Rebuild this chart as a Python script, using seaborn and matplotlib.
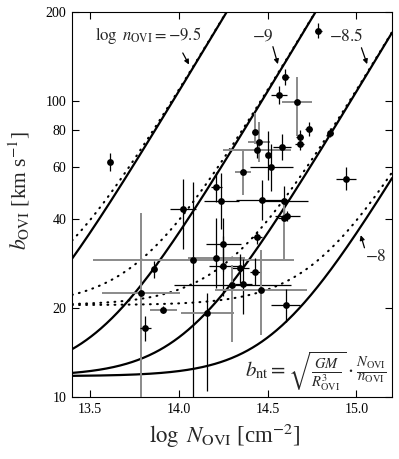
import numpy as np
import pandas as pd
import matplotlib
matplotlib.use("Agg")
import matplotlib.pyplot as plt
import seaborn as sns

# ---------------- data ----------------
logN = [14.784, 14.600, 14.564, 14.667, 14.681, 14.731, 14.681, 14.853, 14.431, 14.451,
        14.441, 14.581, 14.504, 14.522, 14.362, 14.940, 14.212, 13.613, 14.240, 14.470,
        14.590, 14.022, 14.611, 14.591, 14.440, 14.252, 14.083, 14.212, 13.863, 14.252,
        14.344, 14.432, 14.302, 14.364, 14.463, 13.790, 14.602, 14.161, 13.913, 13.812]
bval = [173.0, 121.0, 105.0, 99.2, 75.9, 80.3, 71.6, 78.3, 78.4, 72.7,
        68.5, 70.2, 65.7, 59.9, 57.7, 54.8, 51.2, 62.1, 46.2, 46.4,
        46.1, 43.4, 41.0, 40.3, 34.7, 32.9, 29.0, 29.5, 27.1, 27.7,
        27.3, 26.5, 23.9, 24.1, 23.1, 22.5, 20.5, 19.3, 19.8, 17.1]
xerr = [0.02, 0.02, 0.045, 0.085, 0.02, 0.02, 0.025, 0.015, 0.02, 0.06,
        0.19, 0.05, 0.01, 0.12, 0.045, 0.056, 0.03, 0.005, 0.10, 0.15,
        0.14, 0.073, 0.07, 0.03, 0.03, 0.10, 0.567, 0.16, 0.005, 0.08,
        0.05, 0.03, 0.33, 0.05, 0.26, 0.22, 0.08, 0.15, 0.075, 0.03]
yerr_lo = [10, 7.3, 7.0, 23, 4.0, 4.3, 3.3, 2.8, 6.5, 10.5,
           4.1, 6.7, 11.4, 10.3, 9.4, 4.8, 5.6, 4.1, 9.2, 6.7,
           5.1, 11.8, 1.6, 10.9, 1.7, 6.1, 25, 6.0, 1.7, 5.7,
           3.0, 2.6, 8.5, 5.0, 6.9, 16, 2.5, 8.8, 0.5, 1.6]
yerr_hi = [11, 7.7, 7.5, 21, 4.2, 4.5, 3.4, 3.0, 12.5, 12.2,
           4.4, 7.4, 13.3, 11.9, 10.9, 5.3, 6.3, 4.5, 11.2, 7.8,
           5.7, 11.1, 1.6, 5.6, 1.7, 7.5, 24.5, 10.8, 1.7, 7.3,
           3.3, 3.0, 4.0, 5.2, 8.4, 19.4, 2.8, 3.3, 0.5, 1.8]
grey_x = [0, 0, 0, 1, 0, 0, 0, 0, 0, 1,
          1, 0, 0, 0, 1, 0, 0, 0, 0, 0,
          0, 0, 0, 0, 0, 0, 1, 1, 0, 0,
          0, 0, 0, 0, 1, 1, 0, 1, 1, 0]
grey_y = [0, 0, 0, 1, 0, 0, 0, 0, 1, 1,
          0, 0, 0, 0, 1, 0, 0, 0, 0, 0,
          0, 0, 0, 1, 0, 0, 0, 0, 0, 0,
          0, 0, 1, 0, 1, 1, 0, 0, 0, 0]

log_n_levels = [-9.5, -9.0, -8.5, -8.0]
b_th_solid = 11.8
b_th_dotted = 20.5
log_coeff = -21.47   # log10 of sqrt(GM/R^3) in km/s per cm

# ---------------- figure ----------------
sns.set_theme(style="ticks")
plt.rcParams["font.family"] = ["Liberation Serif", "DejaVu Serif"]
plt.rcParams["mathtext.fontset"] = "stix"

fig = plt.figure(figsize=(3.99, 4.59), dpi=100)
ax = fig.add_axes([0.1805, 0.134, 0.802, 0.840])

grid = np.linspace(13.4, 15.2, 400)
for ln in log_n_levels:
    bnt = 10 ** (log_coeff + grid - ln)
    ax.plot(grid, np.sqrt(b_th_solid ** 2 + bnt ** 2), color="black", lw=1.6, zorder=3)
    ax.plot(grid, np.sqrt(b_th_dotted ** 2 + bnt ** 2), color="black", lw=1.5,
            linestyle=(0, (0.4, 3.0)), dash_capstyle="round", zorder=3)

df = pd.DataFrame({"logN": logN, "b": bval})
for i in range(len(logN)):
    cx = "#8a8a8a" if grey_x[i] else "black"
    cy = "#8a8a8a" if grey_y[i] else "black"
    lwx = 1.4 if grey_x[i] else 0.9
    lwy = 1.4 if grey_y[i] else 0.9
    ax.errorbar(logN[i], bval[i], xerr=xerr[i], fmt="none", ecolor=cx, elinewidth=lwx,
                capsize=0, zorder=4)
    ax.errorbar(logN[i], bval[i], yerr=[[yerr_lo[i]], [yerr_hi[i]]], fmt="none", ecolor=cy,
                elinewidth=lwy, capsize=0, zorder=4)
sns.scatterplot(data=df, x="logN", y="b", ax=ax, color="black", s=24, edgecolor="black",
                linewidth=0, zorder=5, legend=False)

ax.set_yscale("log")
ax.set_xlim(13.4, 15.2)
ax.set_ylim(10, 200)
ax.set_xticks([13.5, 14.0, 14.5, 15.0])
ax.set_xticklabels(["13.5", "14.0", "14.5", "15.0"])
ax.set_yticks([10, 20, 40, 60, 80, 100, 200])
ax.set_yticklabels(["10", "20", "40", "60", "80", "100", "200"])
ax.yaxis.set_minor_locator(matplotlib.ticker.NullLocator())
ax.tick_params(direction="in", length=5, width=0.8, top=True, right=True,
               labelsize=10, colors="black", pad=4)
for s in ax.spines.values():
    s.set_linewidth(0.8)
    s.set_color("black")

ax.set_xlabel(r"$\log\ N_{\rm OVI}$ [cm$^{-2}$]", fontsize=16.5, labelpad=4)
ax.xaxis.label.set_x(0.478)
ax.set_ylabel(r"$b_{\rm OVI}$ [km s$^{-1}$]", fontsize=15.5, labelpad=10)
ax.yaxis.label.set_y(0.536)

# annotations
arrow = dict(arrowstyle="-|>", color="black", lw=0.9, mutation_scale=7, shrinkA=0, shrinkB=0)
ax.text(13.53, 167, r"$\log\ n_{\rm OVI} = -9.5$", fontsize=12, va="center", ha="left")
ax.annotate("", xy=(14.058, 132.9), xytext=(14.023, 145.4), arrowprops=arrow)
ax.text(14.476, 165, r"$-9$", fontsize=12.5, va="center", ha="center")
ax.annotate("", xy=(14.558, 133.3), xytext=(14.530, 152.7), arrowprops=arrow)
ax.text(14.944, 165, r"$-8.5$", fontsize=12.5, va="center", ha="center")
ax.annotate("", xy=(15.060, 133.3), xytext=(15.028, 151.4), arrowprops=arrow)
ax.text(15.107, 29.7, r"$-8$", fontsize=12.5, va="center", ha="center")
ax.annotate("", xy=(15.024, 35.3), xytext=(15.045, 32.0), arrowprops=arrow)
ax.text(15.17, 12.3,
        r"$b_{\rm nt} = \sqrt{\frac{GM}{R_{\rm OVI}^3}}\cdot\frac{N_{\rm OVI}}{n_{\rm OVI}}$",
        fontsize=15, va="center", ha="right")

fig.savefig("out.png", dpi=100)
